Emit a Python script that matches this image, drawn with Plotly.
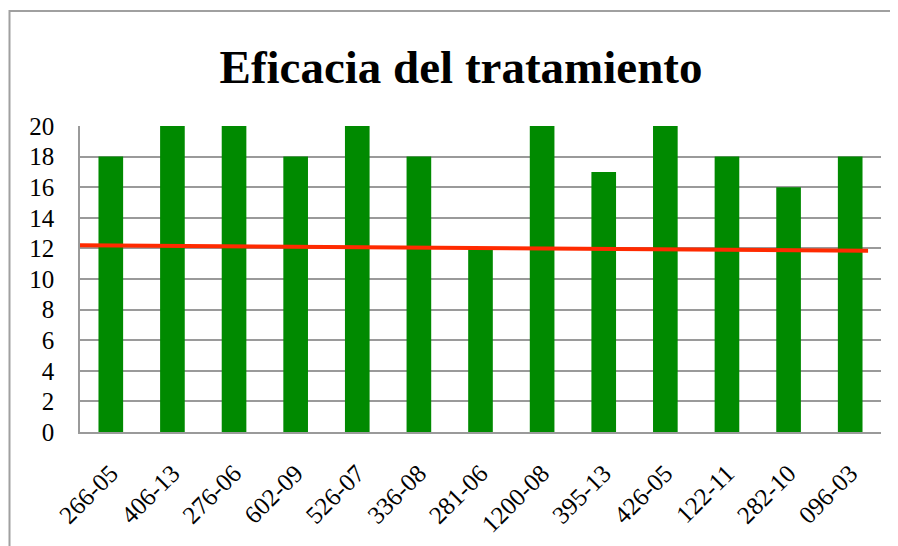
import plotly.graph_objects as go

categories = ["266-05", "406-13", "276-06", "602-09", "526-07", "336-08", "281-06",
              "1200-08", "395-13", "426-05", "122-11", "282-10", "096-03"]
values = [18, 20, 20, 18, 20, 18, 12, 20, 17, 20, 18, 16, 18]
line_x = [-0.5, 12.29]
line_y = [12.2, 11.85]
y_ticks = list(range(0, 21, 2))

pos = list(range(len(categories)))

# page body has an 8px margin, so the figure is sized to fill the rest of the window
W, H = 890, 538
L, R, T, B = 72, 17, 118, 114
pw, ph = W - L - R, H - T - B

fig = go.Figure()
fig.add_trace(go.Bar(x=pos, y=values, width=0.4, marker=dict(color="#008a00", line=dict(width=0)),
                     showlegend=False))
fig.add_trace(go.Scatter(x=line_x, y=line_y, mode="lines", line=dict(color="#ff2a00", width=4),
                         showlegend=False))

serif = "Liberation Serif, Times New Roman, serif"
fig.update_layout(
    width=W, height=H,
    margin=dict(l=L, r=R, t=T, b=B),
    paper_bgcolor="white", plot_bgcolor="white",
    title=dict(text="<b>Eficacia del tratamiento</b>", x=453 / W, xanchor="center",
               y=1 - 59 / H, yanchor="middle",
               font=dict(family=serif, size=47, color="black")),
    xaxis=dict(range=[-0.5, 12.5], tickvals=pos, ticktext=categories, tickangle=-45,
               showgrid=False, showline=True, linecolor="#9a9a9a", linewidth=1.5,
               ticks="outside", ticklen=15, tickcolor="rgba(0,0,0,0)", automargin=False,
               tickfont=dict(family=serif, size=25, color="black"), zeroline=False),
    yaxis=dict(range=[0, 20], tickvals=y_ticks, showgrid=True, gridcolor="#9a9a9a", gridwidth=1.5,
               showline=True, linecolor="#9a9a9a", linewidth=1.5, zeroline=False,
               ticks="outside", ticklen=19, tickcolor="rgba(0,0,0,0)", automargin=False,
               tickfont=dict(family=serif, size=25, color="black")),
    shapes=[dict(type="rect", xref="paper", yref="paper",
                 x0=(1.5 - L) / pw, x1=1.1, y0=-0.6, y1=(ph + T - 3) / ph,
                 line=dict(color="#a0a0a0", width=2), layer="below")],
)

fig.write_html("out.html")
